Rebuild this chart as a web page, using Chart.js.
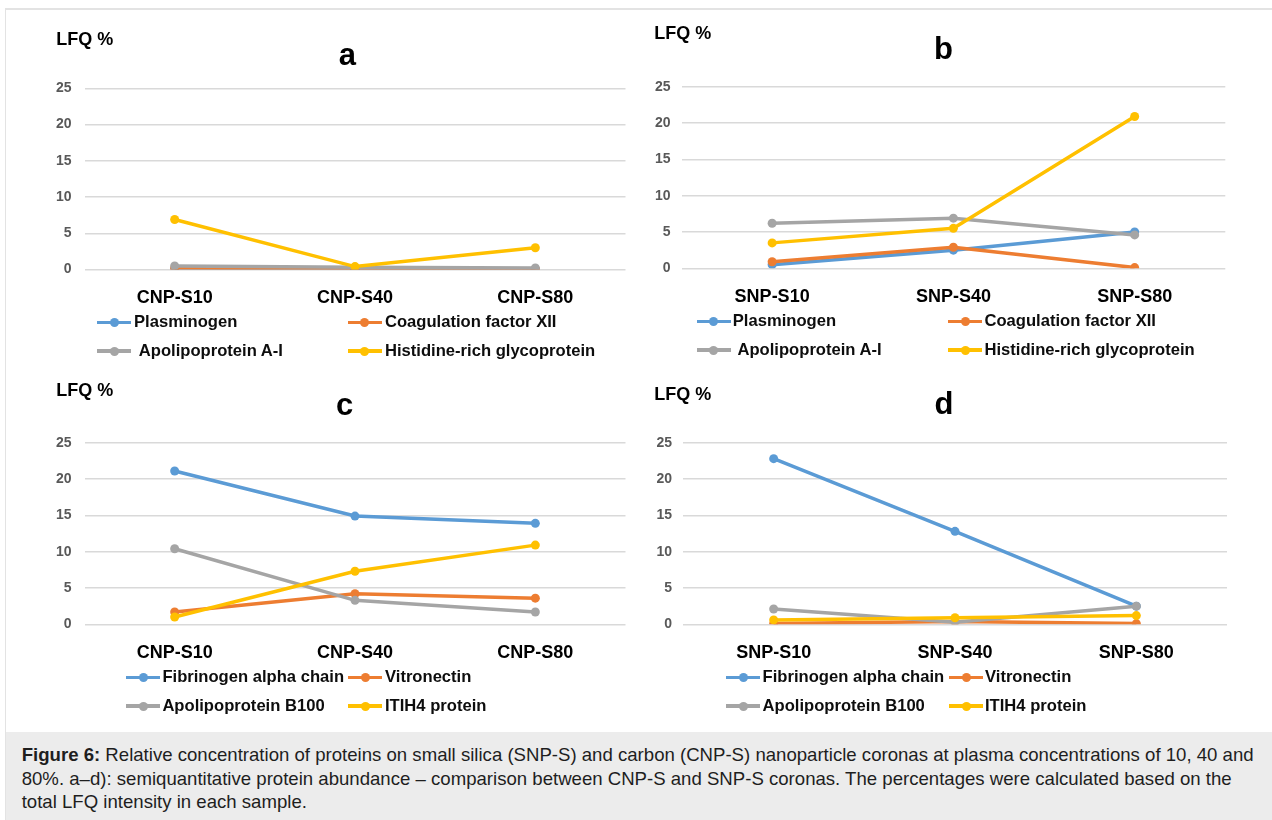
<!DOCTYPE html>
<html>
<head>
<meta charset="utf-8">
<title>Figure 6 – LFQ %</title>
<script src="https://cdn.jsdelivr.net/npm/chart.js@4.4.1/dist/chart.umd.min.js"></script>
<style>
  html, body { margin: 0; padding: 0; background: #fff; }
  #fig { position: relative; width: 1272px; height: 820px; overflow: hidden;
         font-family: "Liberation Sans", Arial, Helvetica, sans-serif; }
  .frameTop  { position: absolute; left: 5px; top: 8px; width: 1267px; height: 2px; background: #e3e3e3; }
  .frameLeft { position: absolute; left: 5px; top: 8px; width: 1px; height: 812px; background: #e3e3e3; }
  .caption { position: absolute; left: 6px; top: 732px; right: 0; bottom: 0; background: #ececec; }
  .capText { position: absolute; left: 21.7px; top: 743.1px; font-size: 18.6px; line-height: 23.5px;
             color: #1e1e1e; white-space: nowrap; }
  canvas { position: absolute; }
  .txt { position: absolute; white-space: nowrap; font-weight: bold; color: #000; line-height: 1; z-index: 2; }
  .swLine { position: absolute; z-index: 2; }
  .swDot { position: absolute; border-radius: 50%; z-index: 3; }
</style>
</head>
<body>
<div id="fig">
  <div class="frameTop"></div>
  <div class="frameLeft"></div>
  <div class="caption"></div>
  <div class="capText"><b>Figure 6:</b> Relative concentration of proteins on small silica (SNP-S) and carbon (CNP-S) nanoparticle coronas at plasma concentrations of 10, 40 and<br>80%. a–d): semiquantitative protein abundance – comparison between CNP-S and SNP-S coronas. The percentages were calculated based on the<br>total LFQ intensity in each sample.</div>
</div>
<script>
// ---- categories and tick labels ----
const CAT_CNP = ["CNP-S10", "CNP-S40", "CNP-S80"];
const CAT_SNP = ["SNP-S10", "SNP-S40", "SNP-S80"];
const Y_TICKS = [0, 5, 10, 15, 20, 25];
const Y_LABEL = "LFQ %";

// ---- series names ----
const NAMES_AB = ["Plasminogen", "Coagulation factor XII", "Apolipoprotein A-I", "Histidine-rich glycoprotein"];
const NAMES_CD = ["Fibrinogen alpha chain", "Vitronectin", "Apolipoprotein B100", "ITIH4 protein"];

// ---- panel a: CNP-S ----
const A_PLASMINOGEN = [0.05, 0.1, 0.05];
const A_FXII        = [0.2, 0.1, 0.05];
const A_APOA1       = [0.5, 0.3, 0.2];
const A_HRG         = [6.9, 0.4, 3.0];

// ---- panel b: SNP-S ----
const B_PLASMINOGEN = [0.5, 2.5, 5.0];
const B_FXII        = [0.9, 2.9, 0.1];
const B_APOA1       = [6.2, 6.9, 4.6];
const B_HRG         = [3.5, 5.5, 20.9];

// ---- panel c: CNP-S ----
const C_FGA   = [21.1, 14.9, 13.9];
const C_VTN   = [1.7, 4.2, 3.6];
const C_APOB  = [10.4, 3.3, 1.7];
const C_ITIH4 = [1.0, 7.3, 10.9];

// ---- panel d: SNP-S ----
const D_FGA   = [22.8, 12.8, 2.5];
const D_VTN   = [0.1, 0.4, 0.1];
const D_APOB  = [2.1, 0.3, 2.5];
const D_ITIH4 = [0.6, 0.9, 1.2];

const COLORS = ["#5b9bd5", "#ed7d31", "#a5a5a5", "#ffc000"];
const FONT = '"Liberation Sans", Arial, Helvetica, sans-serif';

const fig = document.getElementById("fig");

// place a text element by its left edge (or centre) and alphabetic baseline
function addText(str, x, baseline, size, opts = {}) {
  const el = document.createElement("div");
  el.className = "txt";
  el.textContent = str;
  el.style.fontSize = size + "px";
  el.style.top = (baseline - 0.8465 * size) + "px";
  el.style.left = x + "px";
  if (opts.center) el.style.transform = "translateX(-50%)";
  if (opts.color) el.style.color = opts.color;
  fig.appendChild(el);
  return el;
}

function addSwatch(color, x, cy) {
  const ln = document.createElement("div");
  ln.className = "swLine";
  ln.style.left = x + "px";
  ln.style.top = (cy - 1.75) + "px";
  ln.style.width = "34px";
  ln.style.height = "3.5px";
  ln.style.background = color;
  fig.appendChild(ln);
  const dot = document.createElement("div");
  dot.className = "swDot";
  dot.style.left = (x + 17 - 4.5) + "px";
  dot.style.top = (cy - 4.5) + "px";
  dot.style.width = "9px";
  dot.style.height = "9px";
  dot.style.background = color;
  fig.appendChild(dot);
}

function makePanel(p) {
  const cv = document.createElement("canvas");
  cv.width = p.canvas.w;
  cv.height = p.canvas.h;
  cv.style.left = p.canvas.x + "px";
  cv.style.top = p.canvas.y + "px";
  fig.appendChild(cv);

  const plotL = p.plot.x0 - p.canvas.x;
  const plotT = p.plot.top - p.canvas.y;
  const plotR = p.canvas.x + p.canvas.w - p.plot.x1;
  const xAxisH = 60;
  const padB = p.canvas.h - (p.plot.bottom - p.canvas.y) - xAxisH;

  // later series are drawn above earlier ones
  const datasets = p.series.map((vals, i) => ({
    label: p.names[i],
    data: vals,
    borderColor: COLORS[i],
    backgroundColor: COLORS[i],
    pointBackgroundColor: COLORS[i],
    pointBorderColor: COLORS[i],
    borderWidth: 3.5,
    pointRadius: 4.5,
    pointBorderWidth: 0,
    tension: 0,
    order: p.series.length - i
  }));

  new Chart(cv, {
    type: "line",
    data: { labels: p.categories, datasets },
    options: {
      responsive: false,
      animation: false,
      layout: { padding: { left: 0, top: plotT, right: plotR, bottom: padB } },
      plugins: { legend: { display: false }, tooltip: { enabled: false }, title: { display: false } },
      scales: {
        x: {
          type: "category",
          offset: true,
          grid: { display: false, drawTicks: false },
          border: { display: false },
          ticks: { color: "#000", font: { family: FONT, size: 18, weight: "bold" }, padding: p.xPad, maxRotation: 0 },
          afterFit: s => { s.height = xAxisH; }
        },
        y: {
          min: 0, max: 25,
          grid: { color: "#d9d9d9", lineWidth: 1.5, drawTicks: false },
          border: { display: false },
          ticks: { color: "#595959", font: { family: FONT, size: 14, weight: "bold" }, padding: p.yPad },
          afterBuildTicks: s => { s.ticks = Y_TICKS.map(v => ({ value: v })); },
          afterFit: s => { s.width = plotL; }
        }
      }
    }
  });

  addText(Y_LABEL, p.lfq.x, p.lfq.base, 18);
  addText(p.title, p.titlePos.x, p.titlePos.base, 31, { center: true });

  p.names.forEach((name, i) => {
    const L = p.legend[i];
    addSwatch(COLORS[i], L.sx, L.cy);
    addText(name, L.tx, L.cy + 5.6, 16.6, { color: "#0d0d0d" });
  });
}

makePanel({
  title: "a", categories: CAT_CNP, names: NAMES_AB,
  series: [A_PLASMINOGEN, A_FXII, A_APOA1, A_HRG],
  canvas: { x: 0, y: 0, w: 640, h: 370 },
  plot: { x0: 84.5, x1: 625.5, top: 88.3, bottom: 269.5 },
  xPad: 18, yPad: 13,
  lfq: { x: 56.3, base: 45 }, titlePos: { x: 347.3, base: 65 },
  legend: [
    { sx: 97, tx: 134, cy: 322.7 }, { sx: 347.5, tx: 385, cy: 322.7 },
    { sx: 97, tx: 138.8, cy: 351 }, { sx: 347.5, tx: 385, cy: 351 }
  ]
});

makePanel({
  title: "b", categories: CAT_SNP, names: NAMES_AB,
  series: [B_PLASMINOGEN, B_FXII, B_APOA1, B_HRG],
  canvas: { x: 640, y: 0, w: 632, h: 370 },
  plot: { x0: 681.5, x1: 1225.3, top: 86.7, bottom: 268.3 },
  xPad: 18, yPad: 11,
  lfq: { x: 654.3, base: 39 }, titlePos: { x: 943.5, base: 59.3 },
  legend: [
    { sx: 696.5, tx: 732.8, cy: 321.7 }, { sx: 948, tx: 984.5, cy: 321.7 },
    { sx: 696.5, tx: 737.5, cy: 350 }, { sx: 948, tx: 984.5, cy: 350 }
  ]
});

makePanel({
  title: "c", categories: CAT_CNP, names: NAMES_CD,
  series: [C_FGA, C_VTN, C_APOB, C_ITIH4],
  canvas: { x: 0, y: 370, w: 640, h: 362 },
  plot: { x0: 84.5, x1: 625.5, top: 442.7, bottom: 624.3 },
  xPad: 18, yPad: 13,
  lfq: { x: 56.3, base: 396 }, titlePos: { x: 344.5, base: 415 },
  legend: [
    { sx: 126, tx: 162.4, cy: 677.7 }, { sx: 348, tx: 385, cy: 677.7 },
    { sx: 126, tx: 162.4, cy: 706 }, { sx: 348, tx: 385, cy: 706 }
  ]
});

makePanel({
  title: "d", categories: CAT_SNP, names: NAMES_CD,
  series: [D_FGA, D_VTN, D_APOB, D_ITIH4],
  canvas: { x: 640, y: 370, w: 632, h: 362 },
  plot: { x0: 683, x1: 1227, top: 442.7, bottom: 624.3 },
  xPad: 18, yPad: 11,
  lfq: { x: 654.3, base: 400 }, titlePos: { x: 944, base: 414.3 },
  legend: [
    { sx: 726.3, tx: 762.6, cy: 677.7 }, { sx: 949, tx: 985, cy: 677.7 },
    { sx: 726.3, tx: 762.6, cy: 706 }, { sx: 949, tx: 985, cy: 706 }
  ]
});
</script>
</body>
</html>
